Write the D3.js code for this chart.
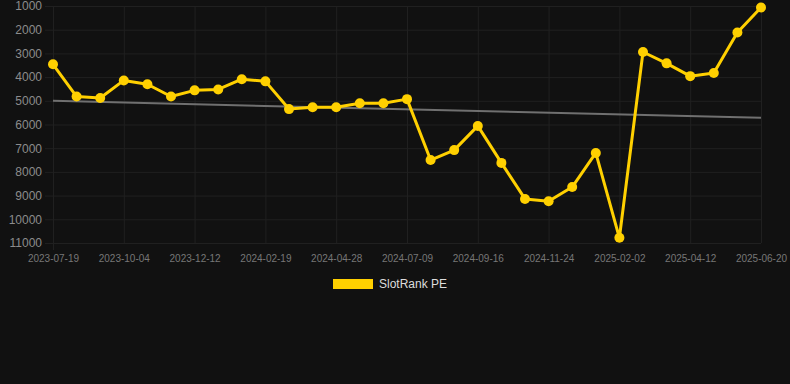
<!DOCTYPE html>
<html>
<head>
<meta charset="utf-8">
<script src="https://cdn.jsdelivr.net/npm/d3@7"></script>
<style>
  html, body { margin: 0; padding: 0; background: #111111; }
  svg { display: block; font-family: "Liberation Sans", Arial, sans-serif; }
</style>
</head>
<body>
<svg id="chart" width="790" height="384"></svg>
<script>
// category dates (every third one is labelled)
const dates = [
  "2023-07-19", "2023-08-14", "2023-09-08", "2023-10-04", "2023-10-27", "2023-11-19",
  "2023-12-12", "2024-01-04", "2024-01-27", "2024-02-19", "2024-03-13", "2024-04-05",
  "2024-04-28", "2024-05-21", "2024-06-15", "2024-07-09", "2024-08-01", "2024-08-24",
  "2024-09-16", "2024-10-09", "2024-11-01", "2024-11-24", "2024-12-17", "2025-01-09",
  "2025-02-02", "2025-02-25", "2025-03-20", "2025-04-12", "2025-05-05", "2025-05-28",
  "2025-06-20"
];

// SlotRank PE rank values
const rankValues = [
  3460, 4820, 4880, 4140, 4300, 4820, 4560, 4520, 4090, 4180,
  5350, 5270, 5270, 5100, 5100, 4930, 7500, 7080, 6060, 7620,
  9140, 9240, 8640, 7200, 10780, 2940, 3420, 3960, 3830, 2120,
  1060
];

// trend line end values
const trendValues = [5000, 5720];

const yTicks = [1000, 2000, 3000, 4000, 5000, 6000, 7000, 8000, 9000, 10000, 11000];
const xTickLabels = dates.filter((d, i) => i % 3 === 0);

const seriesName = "SlotRank PE";
const lineColor = "#ffd000";
const gridColor = "#202020";

const svg = d3.select("#chart");

const x = d3.scalePoint()
  .domain(dates)
  .range([53, 761]);

const y = d3.scaleLinear()
  .domain([1000, 11000])
  .range([6, 243]);

// horizontal grid + y labels
const yAxis = svg.append("g")
  .attr("transform", "translate(53,0)")
  .call(d3.axisLeft(y).tickValues(yTicks).tickSize(-708).tickPadding(11).tickFormat(d3.format("d")));
yAxis.select(".domain").remove();
yAxis.selectAll("line").attr("stroke", gridColor).attr("x1", -8);
yAxis.selectAll("text")
  .attr("fill", "#8c8c8c")
  .style("font-size", "12px");

// vertical grid
const xGrid = svg.append("g")
  .attr("transform", "translate(0,243)")
  .call(d3.axisBottom(x).tickValues(xTickLabels).tickSize(-237).tickFormat(""));
xGrid.select(".domain").remove();
xGrid.selectAll("line").attr("stroke", gridColor).attr("y1", (d, i) => i === 0 ? 7 : 0);

// x labels
const xAxis = svg.append("g")
  .attr("transform", "translate(0,243)")
  .call(d3.axisBottom(x).tickValues(xTickLabels).tickSize(0).tickPadding(12));
xAxis.select(".domain").remove();
xAxis.selectAll("text")
  .attr("fill", "#777777")
  .style("font-size", "10px");

// trend line
svg.append("line")
  .attr("x1", x(dates[0]))
  .attr("y1", y(trendValues[0]))
  .attr("x2", x(dates[dates.length - 1]))
  .attr("y2", y(trendValues[1]))
  .attr("stroke", "#707070")
  .attr("stroke-width", 2);

// series line
const line = d3.line()
  .x((d, i) => x(dates[i]))
  .y(d => y(d));

svg.append("path")
  .datum(rankValues)
  .attr("fill", "none")
  .attr("stroke", lineColor)
  .attr("stroke-width", 3)
  .attr("stroke-linejoin", "round")
  .attr("d", line);

svg.selectAll("circle.pt")
  .data(rankValues)
  .enter()
  .append("circle")
  .attr("class", "pt")
  .attr("cx", (d, i) => x(dates[i]))
  .attr("cy", d => y(d))
  .attr("r", 5)
  .attr("fill", lineColor);

// legend
svg.append("rect")
  .attr("x", 333)
  .attr("y", 279)
  .attr("width", 40)
  .attr("height", 10)
  .attr("fill", lineColor);

svg.append("text")
  .attr("x", 379)
  .attr("y", 284)
  .attr("dy", "0.35em")
  .attr("fill", "#dddddd")
  .style("font-size", "12px")
  .text(seriesName);
</script>
</body>
</html>
